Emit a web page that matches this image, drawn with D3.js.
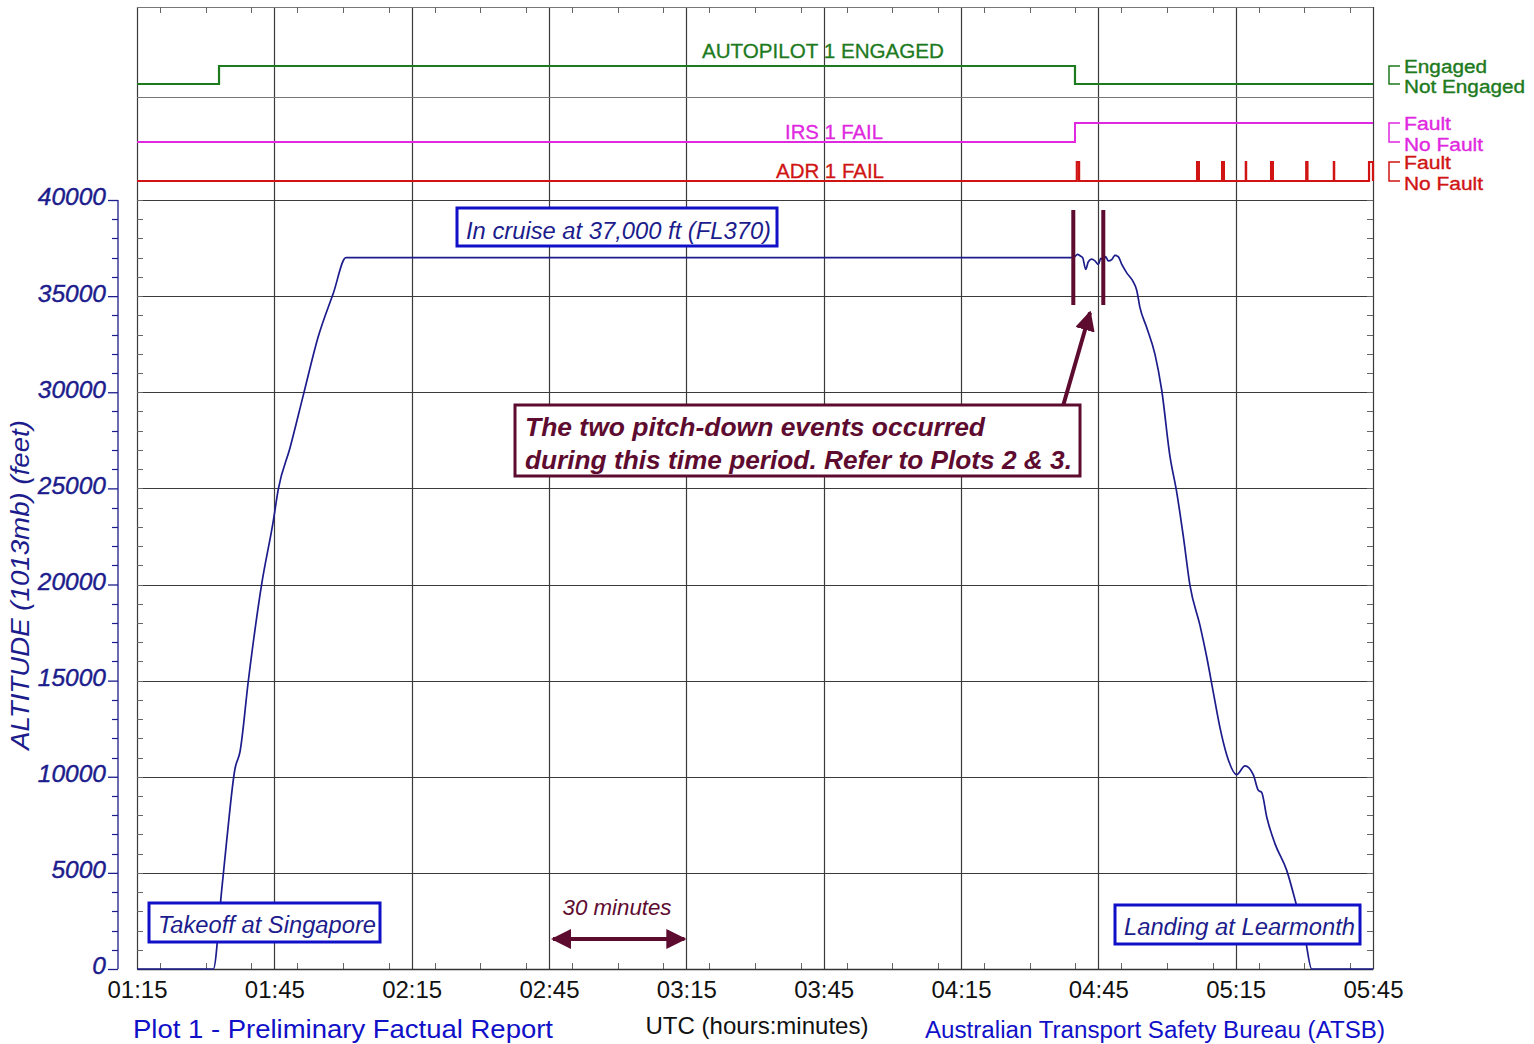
<!DOCTYPE html>
<html>
<head>
<meta charset="utf-8">
<script src="https://cdn.jsdelivr.net/npm/d3@7"></script>
<style>
  body { margin: 0; background: #fff; }
  svg { display: block; font-family: "Liberation Sans", Arial, sans-serif; }
</style>
</head>
<body>
<div id="chart"></div>
<script>
// altitude trace (UTC, feet at 1013mb)
const altTimes = ["01:15:00","01:31:40","01:33:30","01:34:35","01:36:25","01:37:30","01:39:19","01:42:14",
  "01:44:46","01:45:52","01:48:25","01:51:20","01:54:36","01:57:53","02:00:39",
  "04:39:32","04:40:29","04:41:00","04:41:35","04:42:14","04:42:49","04:43:33","04:44:16","04:45:00",
  "04:45:31","04:46:05","04:46:36","04:47:11","04:47:55","04:48:38","04:49:22","04:50:06","04:51:12",
  "04:52:38","04:53:23","04:54:06","04:55:34","04:57:22","04:58:50","05:00:39","05:02:07","05:03:34",
  "05:05:01","05:07:13","05:08:40","05:10:07","05:11:35","05:13:02","05:15:13","05:17:02","05:18:51",
  "05:19:56","05:20:41","05:21:47","05:23:35","05:26:09","05:28:20","05:30:08","05:31:37","05:45:00"];
const altFeet = [0,0,4100,6650,10430,11300,14980,20020,
  23300,24960,27100,29850,32900,35150,37000,
  37000,37170,37100,37000,36390,36790,36920,36830,36650,
  36960,36880,37050,36830,36900,37120,37050,36660,36210,
  35740,35310,34400,33370,31980,30130,26660,24810,22500,
  19950,17860,16240,14390,12540,11150,10110,10570,10110,
  9300,9180,7910,6520,5130,3280,1660,0,0];

// discrete parameters (state changes)
const apTimes = ["01:15:00","01:32:55","04:39:54","05:45:00"];
const apState = [0,1,0,0];
const irsTimes = ["01:15:00","04:39:54","05:45:00"];
const irsState = [0,1,1];
// ADR 1 fault pulses: start, end
const adrFaultStart = ["04:40:18","05:06:34","05:12:02","05:17:13","05:22:44","05:30:25","05:36:27","05:44:08"];
const adrFaultEnd   = ["04:40:48","05:06:58","05:12:26","05:17:17","05:23:08","05:30:41","05:36:31","05:45:00"];

// axes
const xTickLabels = ["01:15","01:45","02:15","02:45","03:15","03:45","04:15","04:45","05:15","05:45"];
const yTickValues = [0,5000,10000,15000,20000,25000,30000,35000,40000];

// annotation anchors
const eventBars = ["04:39:32","04:46:05"];
const scaleBar = ["02:45:00","03:15:00"];

const W = 1534, H = 1044;
const parse = d3.timeParse("%H:%M:%S");
const parseHM = d3.timeParse("%H:%M");

const x = d3.scaleTime()
  .domain([parse("01:15:00"), parse("05:45:00")])
  .range([137, 1373]);
const y = d3.scaleLinear().domain([0, 40000]).range([969, 200]);

const yAP = d3.scaleLinear().domain([0, 1]).range([84, 66]);
const yIRS = d3.scaleLinear().domain([0, 1]).range([142, 123]);
const yADR = d3.scaleLinear().domain([0, 1]).range([181, 162]);

const svg = d3.select("#chart").append("svg")
  .attr("width", W).attr("height", H);

const navy = "#1c1c8c", blue = "#1010c8", maroon = "#5e0b30";
const green = "#1d7a1d", magenta = "#e028e0", red = "#d01414";

svg.append("defs").append("marker")
  .attr("id", "head").attr("viewBox", "0 0 10 10")
  .attr("refX", 9).attr("refY", 5)
  .attr("markerWidth", 5).attr("markerHeight", 5)
  .attr("markerUnits", "strokeWidth")
  .attr("orient", "auto-start-reverse")
  .append("path").attr("d", "M0,0 L10,5 L0,10 z").attr("fill", maroon);

// text helper: size, optional exact width
function txt(s, tx, ty, size, col, opts = {}) {
  const t = svg.append("text").attr("x", tx).attr("y", ty)
    .attr("font-size", size).attr("fill", col).text(s);
  if (opts.anchor) t.attr("text-anchor", opts.anchor);
  if (opts.italic) t.attr("font-style", "italic");
  if (opts.bold) t.attr("font-weight", "bold");
  if (opts.len) t.attr("textLength", opts.len).attr("lengthAdjust", "spacingAndGlyphs");
  if (opts.thick) t.attr("stroke", col).attr("stroke-width", opts.thick);
  return t;
}

// grid
const grid = svg.append("g").attr("stroke", "#3a3a3a").attr("stroke-width", 1.2);
xTickLabels.forEach(t => {
  const xx = Math.round(x(parseHM(t))) + 0.5;
  grid.append("line").attr("x1", xx).attr("x2", xx).attr("y1", 7).attr("y2", 969);
});
yTickValues.forEach(v => {
  const yy = Math.round(y(v)) + 0.5;
  grid.append("line").attr("x1", 137).attr("x2", 1373).attr("y1", yy).attr("y2", yy);
});
[7.5, 97.5].forEach(yy => {
  grid.append("line").attr("x1", 137).attr("x2", 1373).attr("y1", yy).attr("y2", yy)
    .attr("stroke", "#777");
});

// minor ticks inside the frame
const minor = svg.append("g").attr("stroke", "#666").attr("stroke-width", 1);
d3.range(0, 40001, 1000).forEach(v => {
  const yy = Math.round(y(v)) + 0.5;
  minor.append("line").attr("x1", 137).attr("x2", 143).attr("y1", yy).attr("y2", yy);
  minor.append("line").attr("x1", 1367).attr("x2", 1373).attr("y1", yy).attr("y2", yy);
});
d3.timeMinute.every(10).range(x.domain()[0], x.domain()[1]).forEach(d => {
  const xx = Math.round(x(d)) + 0.5;
  minor.append("line").attr("x1", xx).attr("x2", xx).attr("y1", 969).attr("y2", 963);
  minor.append("line").attr("x1", xx).attr("x2", xx).attr("y1", 7).attr("y2", 13);
});

// bottom axis
const xAxis = d3.axisBottom(x)
  .tickValues(xTickLabels.map(parseHM))
  .tickFormat(d3.timeFormat("%H:%M"))
  .tickSize(0).tickPadding(12);
const gx = svg.append("g").attr("transform", "translate(0,969)").call(xAxis);
gx.select(".domain").attr("stroke", "#333").attr("stroke-width", 1.5);
gx.selectAll("text").attr("font-size", 24).attr("fill", "#111")
  .attr("font-family", "'Liberation Sans', Arial, sans-serif");

// left axis (separate, offset)
const yAxis = d3.axisLeft(y).tickValues(yTickValues).tickSize(10).tickPadding(2)
  .tickFormat(d3.format("d"));
const gy = svg.append("g").attr("transform", "translate(118,0)").call(yAxis);
gy.select(".domain").attr("stroke", navy).attr("stroke-width", 1.3).attr("d", "M0,200V969");
gy.selectAll(".tick line").attr("stroke", navy).attr("stroke-width", 1.3);
gy.selectAll("text").attr("font-size", 24.5).attr("fill", navy).attr("font-style", "italic")
  .attr("stroke", navy).attr("stroke-width", 0.4)
  .attr("font-family", "'Liberation Sans', Arial, sans-serif");
gy.selectAll(".tick text").attr("dy", "0.2em");
const gyMinor = svg.append("g").attr("stroke", navy).attr("stroke-width", 1.2);
d3.range(1000, 40000, 1000).filter(v => v % 5000).forEach(v => {
  const yy = Math.round(y(v)) + 0.5;
  gyMinor.append("line").attr("x1", 112).attr("x2", 118).attr("y1", yy).attr("y2", yy);
});

txt("ALTITUDE (1013mb) (feet)", 0, 0, 25, navy, { anchor: "middle", italic: true, len: 330 })
  .attr("transform", "translate(29,585) rotate(-90)");

// discrete parameter traces
const stepLine = (sc) => d3.line().curve(d3.curveStepAfter)
  .x(d => x(d[0])).y(d => sc(d[1]));

svg.append("path")
  .datum(apTimes.map((t, i) => [parse(t), apState[i]]))
  .attr("d", stepLine(yAP)).attr("fill", "none").attr("stroke", green).attr("stroke-width", 2.2);
svg.append("path")
  .datum(irsTimes.map((t, i) => [parse(t), irsState[i]]))
  .attr("d", stepLine(yIRS)).attr("fill", "none").attr("stroke", magenta).attr("stroke-width", 2);

const adrData = [[parse("01:15:00"), 0]];
adrFaultStart.forEach((s, i) => {
  adrData.push([parse(s), 1]);
  adrData.push([parse(adrFaultEnd[i]), 0]);
});
svg.append("path")
  .datum(adrData)
  .attr("d", stepLine(yADR)).attr("fill", "none").attr("stroke", red).attr("stroke-width", 2.2);

// parameter labels
txt("AUTOPILOT 1 ENGAGED", 823, 58, 20.5, green, { anchor: "middle", len: 242, thick: 0.3 });
txt("IRS 1 FAIL", 834, 139, 20.5, magenta, { anchor: "middle", len: 98, thick: 0.3 });
txt("ADR 1 FAIL", 830, 178, 20.5, red, { anchor: "middle", len: 108, thick: 0.3 });

// right legends with brackets
const legend = (top, bot, a, b, col, la, lb) => {
  svg.append("path")
    .attr("d", `M1400,${top}H1389V${bot}H1400`)
    .attr("fill", "none").attr("stroke", col).attr("stroke-width", 1.5);
  txt(a, 1404, top + 7, 18, col, { len: la, thick: 0.35 });
  txt(b, 1404, bot + 9, 18, col, { len: lb, thick: 0.35 });
};
legend(yAP(1), yAP(0), "Engaged", "Not Engaged", green, 83, 121);
legend(yIRS(1), yIRS(0), "Fault", "No Fault", magenta, 47, 79);
legend(yADR(1), yADR(0), "Fault", "No Fault", red, 47, 79);

// altitude trace
svg.append("path")
  .datum(altTimes.map((t, i) => [parse(t), altFeet[i]]))
  .attr("d", d3.line().curve(d3.curveMonotoneX).x(d => x(d[0])).y(d => y(d[1])))
  .attr("fill", "none").attr("stroke", navy).attr("stroke-width", 1.7)
  .attr("stroke-linejoin", "round");

// event period bars
eventBars.forEach(t => {
  svg.append("line")
    .attr("x1", x(parse(t))).attr("x2", x(parse(t)))
    .attr("y1", 210).attr("y2", 305)
    .attr("stroke", maroon).attr("stroke-width", 4);
});

// arrow to events
svg.append("line")
  .attr("x1", x(parse("04:37:04"))).attr("y1", y(29100))
  .attr("x2", x(parse("04:43:11"))).attr("y2", y(34150))
  .attr("stroke", maroon).attr("stroke-width", 4).attr("marker-end", "url(#head)");

// boxed notes
const box = (x0, y0, w, h, col) => svg.append("rect")
  .attr("x", x0).attr("y", y0).attr("width", w).attr("height", h)
  .attr("fill", "#fff").attr("stroke", col).attr("stroke-width", 3);

box(457, 208, 320, 38, blue);
txt("In cruise at 37,000 ft (FL370)", 466, 239, 23.5, navy, { italic: true, len: 305 });

box(515, 405, 565, 71, maroon);
txt("The two pitch-down events occurred", 525, 436, 26, maroon, { italic: true, bold: true, len: 460 });
txt("during this time period. Refer to Plots 2 & 3.", 525, 469, 26, maroon, { italic: true, bold: true, len: 547 });

box(149, 903, 231, 39, blue);
txt("Takeoff at Singapore", 158, 933, 23.5, navy, { italic: true, len: 218 });

box(1115, 905, 245, 39, blue);
txt("Landing at Learmonth", 1124, 935, 23.5, navy, { italic: true, len: 231 });

// 30 minute scale
svg.append("line")
  .attr("x1", x(parse(scaleBar[0])) + 4).attr("x2", x(parse(scaleBar[1])) - 2)
  .attr("y1", 939).attr("y2", 939)
  .attr("stroke", maroon).attr("stroke-width", 4)
  .attr("marker-start", "url(#head)").attr("marker-end", "url(#head)");
txt("30 minutes", 617, 915, 22.5, maroon, { anchor: "middle", italic: true, len: 109 });

// footer
txt("UTC (hours:minutes)", 757, 1034, 24, "#111", { anchor: "middle", len: 223 });
txt("Plot 1 - Preliminary Factual Report", 133, 1038, 25, blue, { len: 420 });
txt("Australian Transport Safety Bureau (ATSB)", 925, 1038, 23.5, blue, { len: 460 });
</script>
</body>
</html>
